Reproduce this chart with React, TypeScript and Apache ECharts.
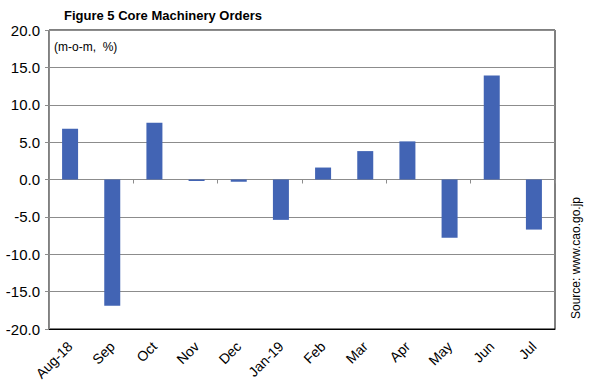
import React, { useEffect, useRef } from "react";
import * as echarts from "echarts";

const categories = ["Aug-18", "Sep", "Oct", "Nov", "Dec", "Jan-19", "Feb", "Mar", "Apr", "May", "Jun", "Jul"];
const values = [6.8, -16.9, 7.6, -0.2, -0.3, -5.4, 1.6, 3.8, 5.1, -7.8, 13.9, -6.7];
const titleText = "Figure 5 Core Machinery Orders";
const unitText = "(m-o-m,  %)";
const sourceText = "Source: www.cao.go.jp";

const FONT = "'Liberation Sans', Arial, sans-serif";

export default function App() {
  const ref = useRef<HTMLDivElement>(null);
  useEffect(() => {
    if (!ref.current) return;
    const chart = echarts.init(ref.current, undefined, { renderer: "svg" });
    chart.setOption({
      animation: false,
      backgroundColor: "#fff",
      grid: {
        left: 49,
        right: 34,
        top: 30,
        bottom: 58,
        show: true,
        borderColor: "#000",
        borderWidth: 1,
        containLabel: false,
      },
      graphic: [
        {
          type: "text",
          left: 64,
          top: 9,
          style: { text: titleText, font: `bold 13px ${FONT}`, fill: "#000" },
        },
        {
          type: "text",
          left: 54,
          top: 41,
          style: { text: unitText, font: `12px ${FONT}`, fill: "#000" },
        },
        {
          type: "text",
          x: 576,
          y: 258,
          rotation: Math.PI / 2,
          style: {
            text: sourceText,
            font: `12px ${FONT}`,
            fill: "#000",
            align: "center",
            verticalAlign: "middle",
          },
        },
      ],
      xAxis: [
        {
          type: "category",
          data: categories,
          position: "bottom",
          axisLine: { onZero: true, lineStyle: { color: "#8c8c8c", width: 1 } },
          axisTick: { show: true, length: 4, lineStyle: { color: "#8c8c8c" } },
          axisLabel: { show: false },
          splitLine: { show: false },
        },
        {
          type: "category",
          data: categories,
          position: "bottom",
          axisLine: { onZero: false, show: true, lineStyle: { color: "#000", width: 1 } },
          axisTick: { show: false },
          axisLabel: {
            rotate: 45,
            margin: 15,
            interval: 0,
            color: "#000",
            fontSize: 14,
            fontFamily: FONT,
          },
        },
      ],
      yAxis: {
        type: "value",
        min: -20,
        max: 20,
        interval: 5,
        axisLine: { show: true, lineStyle: { color: "#8c8c8c" } },
        axisTick: { show: true, length: 4, lineStyle: { color: "#8c8c8c" } },
        axisLabel: {
          formatter: (v: number) => v.toFixed(1),
          color: "#000",
          fontSize: 15,
          fontFamily: FONT,
          margin: 9,
        },
        splitLine: { show: true, lineStyle: { color: "#8c8c8c", width: 1 } },
      },
      series: [
        {
          type: "bar",
          data: values,
          xAxisIndex: 0,
          barWidth: 16,
          itemStyle: { color: "#4264B4" },
        },
      ],
    });
    return () => chart.dispose();
  }, []);
  return <div ref={ref} style={{ width: 589, height: 387, position: "absolute", left: 0, top: 0 }} />;
}
